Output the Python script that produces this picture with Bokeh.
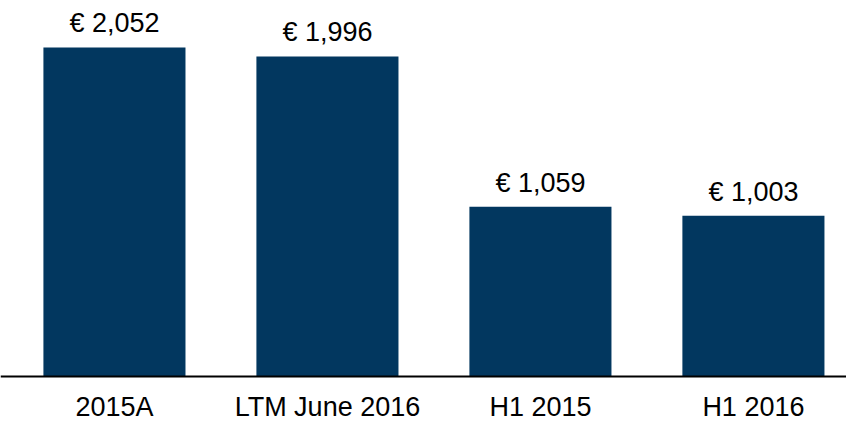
from bokeh.plotting import figure
from bokeh.models import Range1d, FixedTicker, ColumnDataSource
from bokeh.core.properties import value
from bokeh.embed import file_html
from bokeh.resources import INLINE

categories = ["2015A", "LTM June 2016", "H1 2015", "H1 2016"]
values = [2052, 1996, 1059, 1003]
value_labels = ["€ {:,}".format(v) for v in values]

BAR_COLOR = "#02375F"
FONT = "Liberation Sans"

xs = list(range(len(categories)))
src = ColumnDataSource(dict(x=xs, top=values, label=value_labels))

p = figure(width=846, height=421, output_backend="svg", toolbar_location=None,
           x_range=Range1d(-0.535, 3.437), y_range=Range1d(-281, 2345),
           min_border_left=0, min_border_right=0, min_border_top=0, min_border_bottom=0)
p.outline_line_color = None
p.background_fill_color = "white"
p.border_fill_color = "white"
p.grid.visible = False
p.yaxis.visible = False

p.vbar(x="x", top="top", bottom=0, width=0.667, source=src,
       fill_color=BAR_COLOR, line_color=None)
p.text(x="x", y="top", text="label", source=src, y_offset=-24,
       text_align="center", text_baseline="alphabetic",
       text_font=value(FONT), text_font_size="27px", text_color="black")

ax = p.xaxis[0]
ax.fixed_location = 0
ax.ticker = FixedTicker(ticks=xs)
ax.major_label_overrides = {i: c for i, c in zip(xs, categories)}
ax.major_tick_line_color = None
ax.minor_tick_line_color = None
ax.axis_line_color = "black"
ax.axis_line_width = 2
ax.major_label_standoff = 10
ax.major_label_text_font = FONT
ax.major_label_text_font_size = "27px"
ax.major_label_text_color = "black"

open("out.html", "w").write(file_html(p, INLINE))
